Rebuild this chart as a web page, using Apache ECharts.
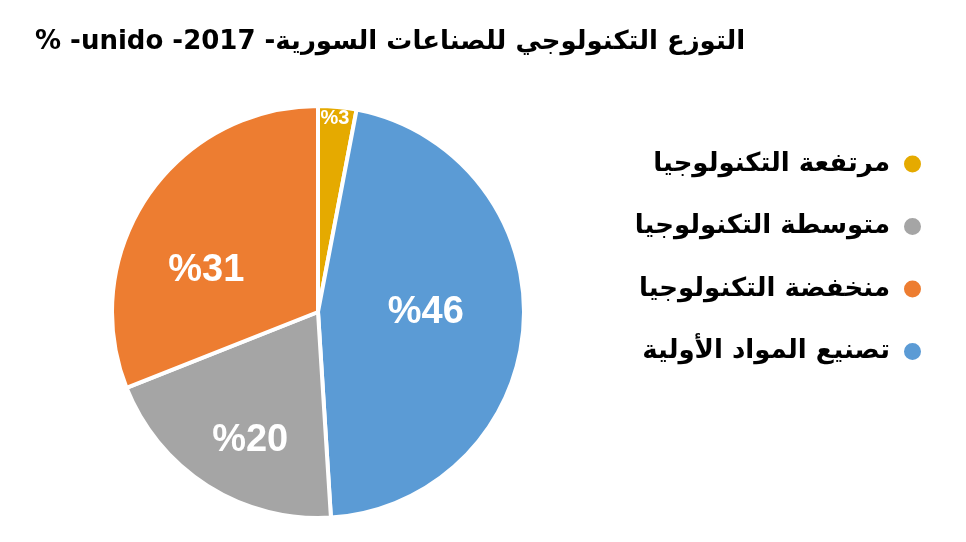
<!DOCTYPE html>
<html>
<head>
<meta charset="utf-8">
<script src="https://cdn.jsdelivr.net/npm/echarts@6/dist/echarts.min.js"></script>
<style>html,body{margin:0;padding:0;background:#fff;}#c{width:966px;height:542px;}</style>
</head>
<body>
<div id="c"></div>
<script>
// Data (clockwise order from 12 o'clock)
var categories = ['مرتفعة التكنولوجيا', 'تصنيع المواد الأولية', 'متوسطة التكنولوجيا', 'منخفضة التكنولوجيا'];
var values = [3, 46, 20, 31];
var legendOrder = ['مرتفعة التكنولوجيا', 'متوسطة التكنولوجيا', 'منخفضة التكنولوجيا', 'تصنيع المواد الأولية'];
var titleText = '% -unido -2017 -التوزع التكنولوجي للصناعات السورية';

// Styles
var colors = ['#E5AA00', '#5B9BD5', '#A5A5A5', '#ED7D31'];
var labelOffsets = [[7, -88], [2, -6], [-11, 39], [-24, 18]];
var labelSizes = [20, 38, 38, 38];

var data = categories.map(function (name, i) {
  return {
    name: name,
    value: values[i],
    itemStyle: { color: colors[i] },
    label: { offset: labelOffsets[i], fontSize: labelSizes[i] }
  };
});

var chart = echarts.init(document.getElementById('c'));
chart.setOption({
  animation: false,
  title: {
    text: titleText,
    left: 30,
    top: 24,
    textStyle: { fontFamily: 'DejaVu Sans', fontWeight: 'bold', fontSize: 26, color: '#000' }
  },
  legend: {
    orient: 'vertical',
    right: 38,
    top: 146,
    align: 'right',
    icon: 'circle',
    itemWidth: 19,
    itemHeight: 19,
    itemGap: 36.5,
    data: legendOrder,
    textStyle: { fontFamily: 'DejaVu Sans', fontWeight: 'bold', fontSize: 26, color: '#000', padding: [0, 8, 0, 0] }
  },
  series: [{
    type: 'pie',
    center: [318, 312],
    radius: [0, 206],
    startAngle: 90,
    clockwise: true,
    avoidLabelOverlap: false,
    itemStyle: { borderColor: '#fff', borderWidth: 4 },
    label: {
      show: true,
      position: 'inside',
      formatter: function (p) { return '%' + p.value; },
      color: '#fff',
      fontFamily: 'Liberation Sans Narrow, Liberation Sans, Arial',
      fontWeight: 'bold'
    },
    labelLine: { show: false },
    emphasis: { disabled: true },
    data: data
  }]
});
</script>
</body>
</html>
